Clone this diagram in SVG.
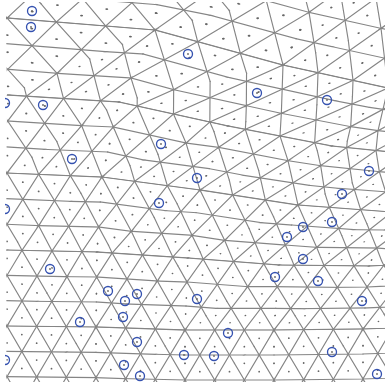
<svg xmlns="http://www.w3.org/2000/svg" width="385" height="382" viewBox="0 0 385 382">
<style>
.ln{fill:none;stroke:#858585;stroke-width:1.15;vector-effect:non-scaling-stroke}
.dt{fill:none;stroke:#666;stroke-width:1.8;stroke-linecap:round;stroke-dasharray:0 29.6}
.ring{fill:none;stroke:#3552b0;stroke-width:1.35}
.cd{fill:#666}
</style>
<defs>
<clipPath id="t1"><polygon points="-0.6,-0.6 90.4,-0.6 -0.6,78.1"/></clipPath>
<clipPath id="t2"><polygon points="0.6,0.6 -90.4,0.6 0.6,-78.1"/></clipPath>
<clipPath id="frame"><rect x="6" y="2" width="379" height="380"/></clipPath>
<clipPath id="frame2"><rect x="5" y="0" width="380" height="382"/></clipPath>
<g id="L">
<path class="ln" d="M-30-58.8H470M-30-33.2H470M-30-7.6H470M-30 18H470M-30 43.6H470M-30 69.2H470M-30 94.8H470M-30 120.4H470M-30 146H470M-30 171.6H470M-30 197.2H470M-30 222.8H470M-30 248.4H470M-30 274H470M-30 299.6H470M-30 325.2H470M-30 350.8H470M-30 376.4H470M-30 402H470"/>
<path class="ln" d="M-244.6-58.8l266.4 460.8M-215-58.8l266.4 460.8M-185.4-58.8l266.4 460.8M-155.8-58.8l266.4 460.8M-126.2-58.8l266.4 460.8M-96.6-58.8l266.4 460.8M-67-58.8l266.4 460.8M-37.4-58.8l266.4 460.8M-7.8-58.8l266.4 460.8M21.8-58.8l266.4 460.8M51.4-58.8l266.4 460.8M81-58.8l266.4 460.8M110.6-58.8l266.4 460.8M140.2-58.8l266.4 460.8M169.8-58.8l266.4 460.8M199.4-58.8l266.4 460.8M229-58.8l266.4 460.8M258.6-58.8l266.4 460.8M288.2-58.8l266.4 460.8M317.8-58.8l266.4 460.8M347.4-58.8l266.4 460.8M377-58.8l266.4 460.8M406.6-58.8l266.4 460.8M436.2-58.8l266.4 460.8"/>
<path class="ln" d="M21.8-58.8l-266.4 460.8M51.4-58.8l-266.4 460.8M81-58.8l-266.4 460.8M110.6-58.8l-266.4 460.8M140.2-58.8l-266.4 460.8M169.8-58.8l-266.4 460.8M199.4-58.8l-266.4 460.8M229-58.8l-266.4 460.8M258.6-58.8l-266.4 460.8M288.2-58.8l-266.4 460.8M317.8-58.8l-266.4 460.8M347.4-58.8l-266.4 460.8M377-58.8l-266.4 460.8M406.6-58.8l-266.4 460.8M436.2-58.8l-266.4 460.8M465.8-58.8l-266.4 460.8M495.4-58.8l-266.4 460.8M525-58.8l-266.4 460.8M554.6-58.8l-266.4 460.8M584.2-58.8l-266.4 460.8M613.8-58.8l-266.4 460.8M643.4-58.8l-266.4 460.8M673-58.8l-266.4 460.8M702.6-58.8l-266.4 460.8"/>
<path class="dt" d="M-22.6-50.27H470M-7.8-41.73H470M-7.8-24.67H470M-22.6-16.13H470M-22.6 0.93H470M-7.8 9.47H470M-7.8 26.53H470M-22.6 35.07H470M-22.6 52.13H470M-7.8 60.67H470M-7.8 77.73H470M-22.6 86.27H470M-22.6 103.33H470M-7.8 111.87H470M-7.8 128.93H470M-22.6 137.47H470M-22.6 154.53H470M-7.8 163.07H470M-7.8 180.13H470M-22.6 188.67H470M-22.6 205.73H470M-7.8 214.27H470M-7.8 231.33H470M-22.6 239.87H470M-22.6 256.93H470M-7.8 265.47H470M-7.8 282.53H470M-22.6 291.07H470M-22.6 308.13H470M-7.8 316.67H470M-7.8 333.73H470M-22.6 342.27H470M-22.6 359.33H470M-7.8 367.87H470M-7.8 384.93H470M-22.6 393.47H470"/>
</g>
</defs>
<rect width="385" height="382" fill="#fff"/>
<g id="mesh" clip-path="url(#frame)">
<g transform="translate(7,-60) matrix(1.723,0.1577,0,1.0156,0,0)" clip-path="url(#t1)"><use href="#L" x="-7" y="58.8"/></g>
<g transform="translate(155,30) matrix(1.6667,0.1351,-0.0651,0.9896,0,0)" clip-path="url(#t2)"><use href="#L" x="-95.8" y="-18"/></g>
<g transform="translate(160,-46) matrix(1.8243,0.3604,-0.0651,0.9896,0,0)" clip-path="url(#t1)"><use href="#L" x="-95.8" y="58.8"/></g>
<g transform="translate(283,65) matrix(1.4414,0.3941,-0.5078,1.0286,0,0)" clip-path="url(#t2)"><use href="#L" x="-184.6" y="-18"/></g>
<g transform="translate(322,-14) matrix(1.2162,0.2703,-0.5078,1.0286,0,0)" clip-path="url(#t1)"><use href="#L" x="-184.6" y="58.8"/></g>
<g transform="translate(388,88) matrix(1.1824,0.259,-0.5469,1.0156,0,0)" clip-path="url(#t2)"><use href="#L" x="-273.4" y="-18"/></g>

<g transform="translate(7,18) matrix(1.6667,0.1351,0.013,1.0026,0,0)" clip-path="url(#t1)"><use href="#L" x="-7" y="-18"/></g>
<g transform="translate(119,102) matrix(1.25,0.0788,-0.4688,0.9375,0,0)" clip-path="url(#t2)"><use href="#L" x="-95.8" y="-94.8"/></g>
<g transform="translate(155,30) matrix(1.4414,0.3941,-0.4688,0.9375,0,0)" clip-path="url(#t1)"><use href="#L" x="-95.8" y="-18"/></g>
<g transform="translate(228,126) matrix(1.2275,0.2703,-0.7161,0.7943,0,0)" clip-path="url(#t2)"><use href="#L" x="-184.6" y="-94.8"/></g>
<g transform="translate(283,65) matrix(1.1824,0.259,-0.7161,0.7943,0,0)" clip-path="url(#t1)"><use href="#L" x="-184.6" y="-18"/></g>
<g transform="translate(332,146) matrix(1.1712,0.2252,-0.7292,0.7552,0,0)" clip-path="url(#t2)"><use href="#L" x="-273.4" y="-94.8"/></g>
<g transform="translate(388,88) matrix(0.9234,0.1351,-0.7292,0.7552,0,0)" clip-path="url(#t1)"><use href="#L" x="-273.4" y="-18"/></g>
<g transform="translate(420,155) matrix(0.991,0.1014,-0.651,0.7161,0,0)" clip-path="url(#t2)"><use href="#L" x="-362.2" y="-94.8"/></g>

<g transform="translate(8,95) matrix(1.25,0.0788,-0.013,1.0156,0,0)" clip-path="url(#t1)"><use href="#L" x="-7" y="-94.8"/></g>
<g transform="translate(102,177) matrix(1.0698,0.045,-0.2214,0.9766,0,0)" clip-path="url(#t2)"><use href="#L" x="-95.8" y="-171.6"/></g>
<g transform="translate(119,102) matrix(1.2275,0.2703,-0.2214,0.9766,0,0)" clip-path="url(#t1)"><use href="#L" x="-95.8" y="-94.8"/></g>
<g transform="translate(200,190) matrix(1.1036,0.1464,-0.3646,0.8333,0,0)" clip-path="url(#t2)"><use href="#L" x="-184.6" y="-171.6"/></g>
<g transform="translate(228,126) matrix(1.1712,0.2252,-0.3646,0.8333,0,0)" clip-path="url(#t1)"><use href="#L" x="-184.6" y="-94.8"/></g>
<g transform="translate(298,205) matrix(1.1036,0.1689,-0.4427,0.7682,0,0)" clip-path="url(#t2)"><use href="#L" x="-273.4" y="-171.6"/></g>
<g transform="translate(332,146) matrix(0.991,0.1014,-0.4427,0.7682,0,0)" clip-path="url(#t1)"><use href="#L" x="-273.4" y="-94.8"/></g>
<g transform="translate(392,212) matrix(1.0586,0.0788,-0.3646,0.7422,0,0)" clip-path="url(#t2)"><use href="#L" x="-362.2" y="-171.6"/></g>

<g transform="translate(7,173) matrix(1.0698,0.045,0,1.0026,0,0)" clip-path="url(#t1)"><use href="#L" x="-7" y="-171.6"/></g>
<g transform="translate(97,252) matrix(1.0135,0.0225,-0.0651,0.9766,0,0)" clip-path="url(#t2)"><use href="#L" x="-95.8" y="-248.4"/></g>
<g transform="translate(102,177) matrix(1.1036,0.1464,-0.0651,0.9766,0,0)" clip-path="url(#t1)"><use href="#L" x="-95.8" y="-171.6"/></g>
<g transform="translate(188,258) matrix(1.0248,0.0676,-0.1563,0.8854,0,0)" clip-path="url(#t2)"><use href="#L" x="-184.6" y="-248.4"/></g>
<g transform="translate(200,190) matrix(1.1036,0.1689,-0.1563,0.8854,0,0)" clip-path="url(#t1)"><use href="#L" x="-184.6" y="-171.6"/></g>
<g transform="translate(279,265) matrix(1.0248,0.0788,-0.2474,0.7813,0,0)" clip-path="url(#t2)"><use href="#L" x="-273.4" y="-248.4"/></g>
<g transform="translate(298,205) matrix(1.0586,0.0788,-0.2474,0.7813,0,0)" clip-path="url(#t1)"><use href="#L" x="-273.4" y="-171.6"/></g>
<g transform="translate(369,266) matrix(1.0135,0.0113,-0.2995,0.7031,0,0)" clip-path="url(#t2)"><use href="#L" x="-362.2" y="-248.4"/></g>
<g transform="translate(392,212) matrix(1.0135,0.0676,-0.2995,0.7031,0,0)" clip-path="url(#t1)"><use href="#L" x="-362.2" y="-171.6"/></g>
<g transform="translate(458,262) matrix(1.0023,-0.045,-0.3125,0.5729,0,0)" clip-path="url(#t2)"><use href="#L" x="-451" y="-248.4"/></g>

<g transform="translate(7,250) matrix(1.0135,0.0225,0,0.9896,0,0)" clip-path="url(#t1)"><use href="#L" x="-7" y="-248.4"/></g>
<g transform="translate(96,327) matrix(1.0023,0.0113,-0.013,0.9766,0,0)" clip-path="url(#t2)"><use href="#L" x="-95.8" y="-325.2"/></g>
<g transform="translate(97,252) matrix(1.0248,0.0676,-0.013,0.9766,0,0)" clip-path="url(#t1)"><use href="#L" x="-95.8" y="-248.4"/></g>
<g transform="translate(185,330) matrix(1.0023,0.0338,-0.0391,0.9375,0,0)" clip-path="url(#t2)"><use href="#L" x="-184.6" y="-325.2"/></g>
<g transform="translate(188,258) matrix(1.0248,0.0788,-0.0391,0.9375,0,0)" clip-path="url(#t1)"><use href="#L" x="-184.6" y="-248.4"/></g>
<g transform="translate(274,330) matrix(1.0023,0,-0.0651,0.8464,0,0)" clip-path="url(#t2)"><use href="#L" x="-273.4" y="-325.2"/></g>
<g transform="translate(279,265) matrix(1.0135,0.0113,-0.0651,0.8464,0,0)" clip-path="url(#t1)"><use href="#L" x="-273.4" y="-248.4"/></g>
<g transform="translate(363,329) matrix(1.0023,-0.0113,-0.0781,0.8203,0,0)" clip-path="url(#t2)"><use href="#L" x="-362.2" y="-325.2"/></g>
<g transform="translate(369,266) matrix(1.0023,-0.045,-0.0781,0.8203,0,0)" clip-path="url(#t1)"><use href="#L" x="-362.2" y="-248.4"/></g>
<g transform="translate(452,326) matrix(1.0023,-0.0338,-0.0781,0.8333,0,0)" clip-path="url(#t2)"><use href="#L" x="-451" y="-325.2"/></g>

<g transform="translate(7,326) matrix(1.0023,0.0113,0,0.9896,0,0)" clip-path="url(#t1)"><use href="#L" x="-7" y="-325.2"/></g>
<g transform="translate(96,403) matrix(1.0023,0.0113,0,0.9896,0,0)" clip-path="url(#t2)"><use href="#L" x="-95.8" y="-402"/></g>
<g transform="translate(96,327) matrix(1.0023,0.0338,0,0.9896,0,0)" clip-path="url(#t1)"><use href="#L" x="-95.8" y="-325.2"/></g>
<g transform="translate(185,405) matrix(1.0023,0.0225,0,0.9766,0,0)" clip-path="url(#t2)"><use href="#L" x="-184.6" y="-402"/></g>
<g transform="translate(185,330) matrix(1.0023,0,0,0.9766,0,0)" clip-path="url(#t1)"><use href="#L" x="-184.6" y="-325.2"/></g>
<g transform="translate(274,405) matrix(1.0023,0,0,0.9766,0,0)" clip-path="url(#t2)"><use href="#L" x="-273.4" y="-402"/></g>
<g transform="translate(274,330) matrix(1.0023,-0.0113,0,0.9766,0,0)" clip-path="url(#t1)"><use href="#L" x="-273.4" y="-325.2"/></g>
<g transform="translate(363,404) matrix(1.0023,-0.0113,0,0.9766,0,0)" clip-path="url(#t2)"><use href="#L" x="-362.2" y="-402"/></g>
<g transform="translate(363,329) matrix(1.0023,-0.0338,0,0.9766,0,0)" clip-path="url(#t1)"><use href="#L" x="-362.2" y="-325.2"/></g>
<g transform="translate(452,402) matrix(1.0023,-0.0225,0,0.9896,0,0)" clip-path="url(#t2)"><use href="#L" x="-451" y="-402"/></g>
</g>
<g id="marks" clip-path="url(#frame2)">
<circle class="ring" cx="32" cy="11" r="4.5"/><circle class="cd" cx="32" cy="11" r="0.9"/>
<circle class="ring" cx="31" cy="27" r="4.5"/><circle class="cd" cx="31" cy="27" r="0.9"/>
<circle class="ring" cx="188" cy="54" r="4.5"/><circle class="cd" cx="188" cy="54" r="0.9"/>
<circle class="ring" cx="5" cy="103" r="4.5"/>
<circle class="ring" cx="43" cy="105" r="4.5"/><circle class="cd" cx="43" cy="105" r="0.9"/>
<circle class="ring" cx="257" cy="93" r="4.5"/><circle class="cd" cx="257" cy="93" r="0.9"/>
<circle class="ring" cx="327" cy="100" r="4.5"/><circle class="cd" cx="327" cy="100" r="0.9"/>
<circle class="ring" cx="161" cy="144" r="4.5"/><circle class="cd" cx="161" cy="144" r="0.9"/>
<circle class="ring" cx="72" cy="159" r="4.5"/><circle class="cd" cx="72" cy="159" r="0.9"/>
<circle class="ring" cx="369" cy="171" r="4.5"/><circle class="cd" cx="369" cy="171" r="0.9"/>
<circle class="ring" cx="197" cy="178" r="4.5"/><circle class="cd" cx="197" cy="178" r="0.9"/>
<circle class="ring" cx="159" cy="203" r="4.5"/><circle class="cd" cx="159" cy="203" r="0.9"/>
<circle class="ring" cx="342" cy="194" r="4.5"/><circle class="cd" cx="342" cy="194" r="0.9"/>
<circle class="ring" cx="5" cy="209" r="4.5"/>
<circle class="ring" cx="332" cy="222" r="4.5"/><circle class="cd" cx="332" cy="222" r="0.9"/>
<circle class="ring" cx="303" cy="227" r="4.5"/><circle class="cd" cx="303" cy="227" r="0.9"/>
<circle class="ring" cx="287" cy="237" r="4.5"/><circle class="cd" cx="287" cy="237" r="0.9"/>
<circle class="ring" cx="50" cy="269" r="4.5"/><circle class="cd" cx="50" cy="269" r="0.9"/>
<circle class="ring" cx="303" cy="259" r="4.5"/><circle class="cd" cx="303" cy="259" r="0.9"/>
<circle class="ring" cx="275" cy="277" r="4.5"/><circle class="cd" cx="275" cy="277" r="0.9"/>
<circle class="ring" cx="318" cy="281" r="4.5"/><circle class="cd" cx="318" cy="281" r="0.9"/>
<circle class="ring" cx="108" cy="291" r="4.5"/><circle class="cd" cx="108" cy="291" r="0.9"/>
<circle class="ring" cx="137" cy="294" r="4.5"/><circle class="cd" cx="137" cy="294" r="0.9"/>
<circle class="ring" cx="125" cy="301" r="4.5"/><circle class="cd" cx="125" cy="301" r="0.9"/>
<circle class="ring" cx="197" cy="299" r="4.5"/><circle class="cd" cx="197" cy="299" r="0.9"/>
<circle class="ring" cx="362" cy="301" r="4.5"/><circle class="cd" cx="362" cy="301" r="0.9"/>
<circle class="ring" cx="123" cy="317" r="4.5"/><circle class="cd" cx="123" cy="317" r="0.9"/>
<circle class="ring" cx="80" cy="322" r="4.5"/><circle class="cd" cx="80" cy="322" r="0.9"/>
<circle class="ring" cx="228" cy="333" r="4.5"/><circle class="cd" cx="228" cy="333" r="0.9"/>
<circle class="ring" cx="137" cy="342" r="4.5"/><circle class="cd" cx="137" cy="342" r="0.9"/>
<circle class="ring" cx="5" cy="360" r="4.5"/>
<circle class="ring" cx="124" cy="365" r="4.5"/><circle class="cd" cx="124" cy="365" r="0.9"/>
<circle class="ring" cx="184" cy="355" r="4.5"/><circle class="cd" cx="184" cy="355" r="0.9"/>
<circle class="ring" cx="214" cy="356" r="4.5"/><circle class="cd" cx="214" cy="356" r="0.9"/>
<circle class="ring" cx="332" cy="352" r="4.5"/><circle class="cd" cx="332" cy="352" r="0.9"/>
<circle class="ring" cx="140" cy="376" r="4.5"/><circle class="cd" cx="140" cy="376" r="0.9"/>
<circle class="ring" cx="377" cy="374" r="4.5"/><circle class="cd" cx="377" cy="374" r="0.9"/>
</g>
</svg>
